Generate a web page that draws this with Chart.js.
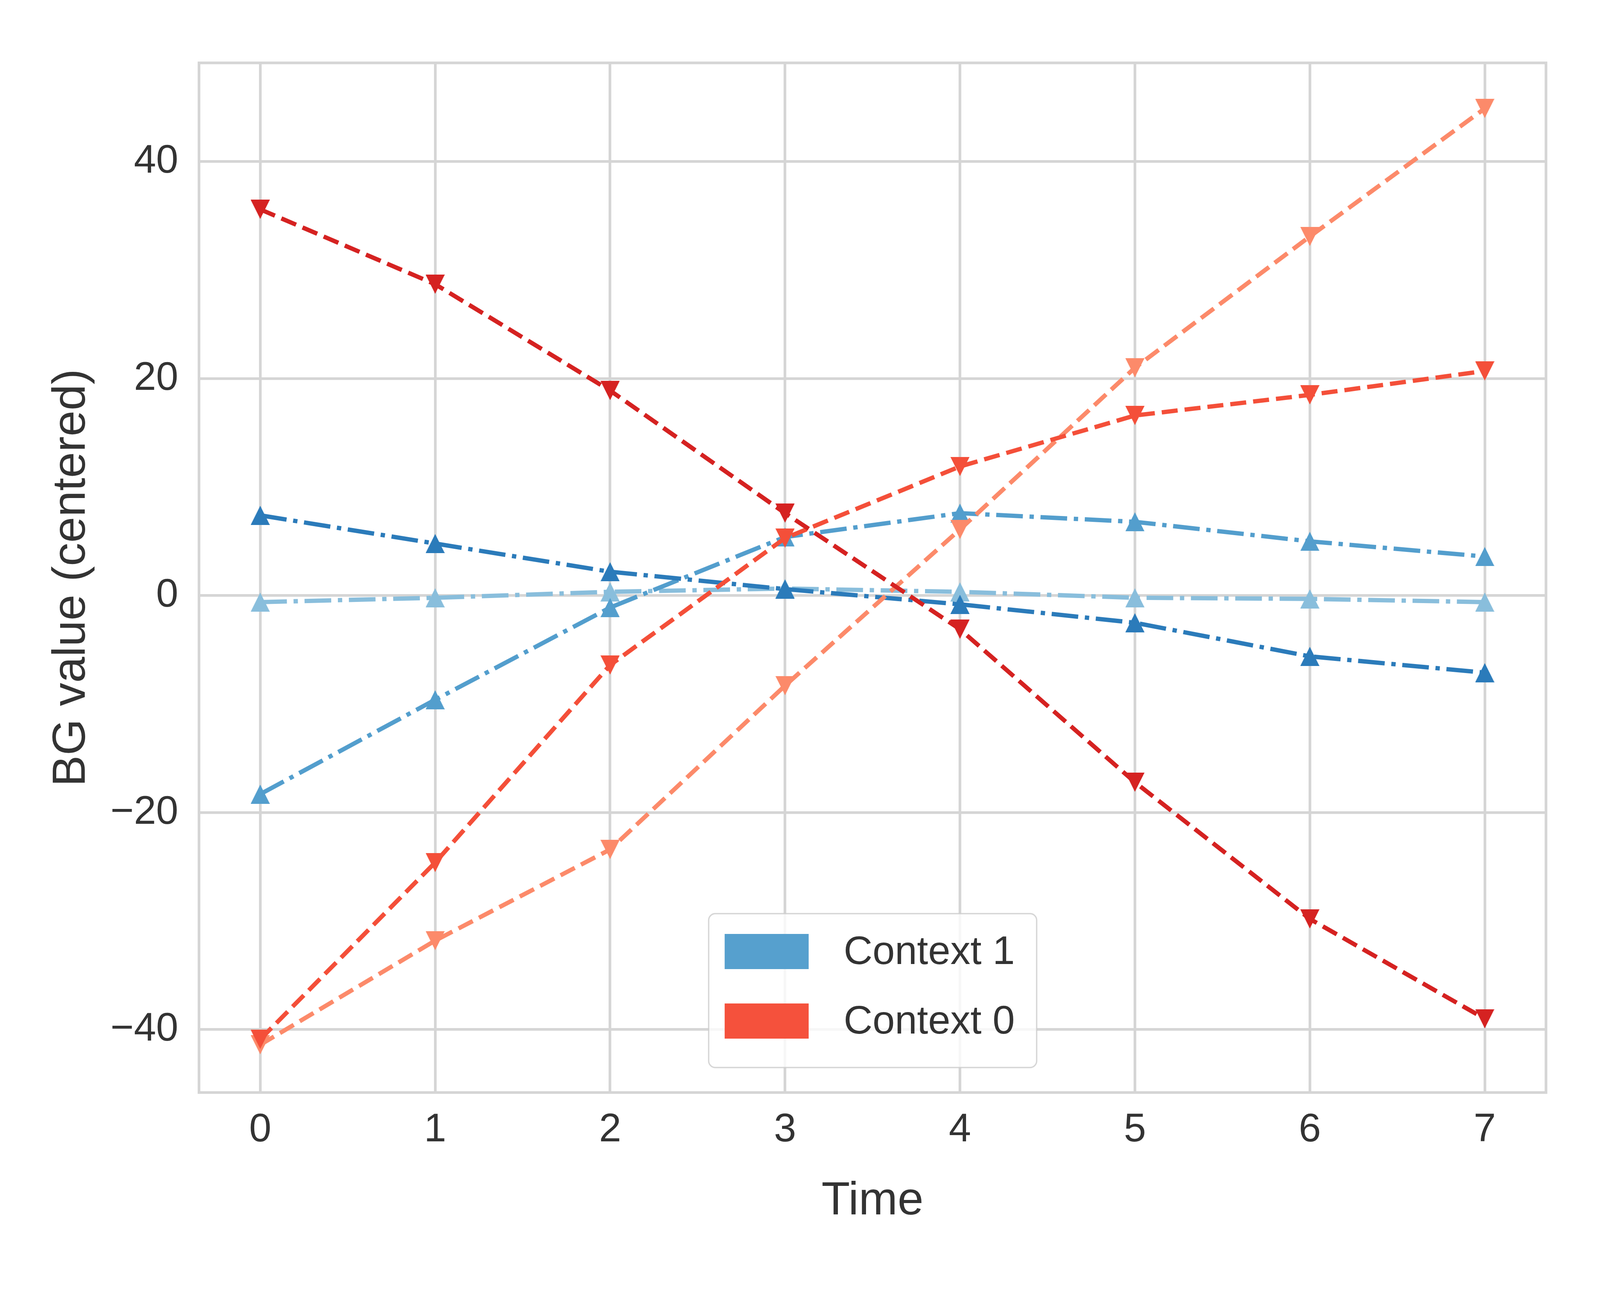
<!DOCTYPE html>
<html>
<head>
<meta charset="utf-8">
<script src="https://cdn.jsdelivr.net/npm/chart.js@4.4.1/dist/chart.umd.min.js"></script>
<style>
  html, body { margin: 0; padding: 0; background: #ffffff; overflow: hidden; }
</style>
</head>
<body>
<div id="wrap"><canvas id="bgChart"></canvas></div>
<script>
// Данные
const timeSteps = [0, 1, 2, 3, 4, 5, 6, 7];
const xTicks = [0, 1, 2, 3, 4, 5, 6, 7];
const yTicks = [-40, -20, 0, 20, 40];

// Context 1 (синие, треугольник вверх, штрих-пунктир)
const ctx1Dark = [7.4, 4.8, 2.2, 0.6, -0.8, -2.5, -5.6, -7.1];
const ctx1Mid = [-18.3, -9.6, -1.1, 5.4, 7.6, 6.8, 5.0, 3.6];
const ctx1Light = [-0.6, -0.2, 0.35, 0.65, 0.35, -0.2, -0.3, -0.6];

// Context 0 (красные, треугольник вниз, пунктир)
const ctx0Dark = [35.6, 28.7, 18.9, 7.6, -3.1, -17.2, -29.8, -39.0];
const ctx0Mid = [-40.9, -24.6, -6.4, 5.3, 11.9, 16.6, 18.5, 20.7];
const ctx0Light = [-41.4, -31.8, -23.4, -8.3, 6.1, 21.0, 33.1, 44.9];

const legendLabels = ['Context 1', 'Context 0'];
const legendColors = ['#56a0ce', '#f5513c'];

const FONT = "'Liberation Sans', Arial, sans-serif";
const TEXT = '#333333';
const GRID = '#d5d5d5';

// макет рассчитан на 4800x3300, растягиваем под реальное окно
const SX = window.innerWidth / 4800;
const SY = window.innerHeight / 3300;
const SF = Math.min(SX, SY);
const px = v => v * SX;   // горизонтальные размеры
const py = v => v * SY;   // вертикальные размеры
const pf = v => v * SF;   // шрифты, линии, маркеры
const DPR = window.devicePixelRatio || 1;

const wrap = document.getElementById('wrap');
wrap.style.width = window.innerWidth + 'px';
wrap.style.height = window.innerHeight + 'px';

// маркер как в matplotlib: треугольник шириной и высотой ms
function triangleMarker(color, up) {
    const size = pf(58);
    const n = Math.round(size * DPR * 2);
    const c = document.createElement('canvas');
    c.width = n; c.height = n;
    const g = c.getContext('2d');
    g.fillStyle = color;
    g.beginPath();
    if (up) {
        g.moveTo(n / 2, 0); g.lineTo(n, n); g.lineTo(0, n);
    } else {
        g.moveTo(0, 0); g.lineTo(n, 0); g.lineTo(n / 2, n);
    }
    g.closePath();
    g.fill();
    const img = new Image();
    img.width = size;
    img.height = size;
    return new Promise(res => {
        img.onload = () => res(img);
        img.src = c.toDataURL();
    });
}

function toPoints(values) {
    return timeSteps.map((t, i) => ({ x: t, y: values[i] }));
}

function makeSeries(label, values, color, up, marker) {
    return {
        label: label,
        data: toPoints(values),
        borderColor: color,
        backgroundColor: color,
        borderWidth: pf(13),
        borderDash: up ? [pf(80), pf(20), pf(13), pf(20)] : [pf(48), pf(21)],
        pointStyle: marker,
        pointRadius: pf(29),
        pointHoverRadius: pf(29),
        tension: 0,
        fill: false
    };
}

function fmtTick(v) {
    return v < 0 ? '\u2212' + Math.abs(v) : String(v);
}

// рамка вокруг области графика
const framePlugin = {
    id: 'frame',
    beforeDatasetsDraw(chart) {
        const { ctx, chartArea: a } = chart;
        ctx.save();
        ctx.strokeStyle = GRID;
        ctx.lineWidth = pf(8);
        ctx.strokeRect(a.left, a.top, a.right - a.left, a.bottom - a.top);
        ctx.restore();
    }
};

// легенда внутри области графика
const boxLegend = {
    id: 'boxLegend',
    afterDraw(chart) {
        const { ctx, chartArea: a } = chart;
        const x0 = a.left + px(1529), y0 = a.top + py(2178);
        const w = px(984), h = py(394), r = pf(20);
        ctx.save();
        ctx.beginPath();
        ctx.roundRect(x0, y0, w, h, r);
        ctx.fillStyle = 'rgba(255,255,255,0.8)';
        ctx.fill();
        ctx.lineWidth = pf(4);
        ctx.strokeStyle = 'rgba(204,204,204,0.8)';
        ctx.stroke();
        ctx.font = pf(120) + 'px ' + FONT;
        ctx.textBaseline = 'middle';
        legendLabels.forEach((lab, i) => {
            const cy = y0 + py(97 + i * 178);
            ctx.fillStyle = legendColors[i];
            ctx.fillRect(x0 + px(48), cy - py(45), px(252), py(90));
            ctx.fillStyle = TEXT;
            ctx.fillText(lab, x0 + px(405), cy + pf(4));
        });
        ctx.restore();
    }
};

const colors = {
    r0: '#d52221', r1: '#f44f39', r2: '#fc8a6a',
    b0: '#2b7bba', b1: '#539ecd', b2: '#89bedc'
};

Promise.all([
    triangleMarker(colors.r0, false), triangleMarker(colors.r1, false), triangleMarker(colors.r2, false),
    triangleMarker(colors.b0, true), triangleMarker(colors.b1, true), triangleMarker(colors.b2, true)
]).then(m => {
    new Chart(document.getElementById('bgChart').getContext('2d'), {
        type: 'line',
        data: {
            datasets: [
                makeSeries('Context 0 a', ctx0Dark, colors.r0, false, m[0]),
                makeSeries('Context 0 b', ctx0Mid, colors.r1, false, m[1]),
                makeSeries('Context 0 c', ctx0Light, colors.r2, false, m[2]),
                makeSeries('Context 1 a', ctx1Dark, colors.b0, true, m[3]),
                makeSeries('Context 1 b', ctx1Mid, colors.b1, true, m[4]),
                makeSeries('Context 1 c', ctx1Light, colors.b2, true, m[5])
            ]
        },
        options: {
            responsive: true,
            maintainAspectRatio: false,
            animation: false,
            layout: { padding: { top: py(161), right: px(162), left: 0, bottom: 0 } },
            plugins: { legend: { display: false }, tooltip: { enabled: false } },
            scales: {
                x: {
                    type: 'linear',
                    min: -0.35,
                    max: 7.35,
                    afterBuildTicks: s => { s.ticks = xTicks.map(v => ({ value: v })); },
                    afterFit: s => { s.height = py(503); },
                    grid: { color: GRID, lineWidth: pf(8), drawTicks: false },
                    border: { display: false },
                    ticks: {
                        autoSkip: false, maxRotation: 0, padding: py(35),
                        color: TEXT, font: { family: FONT, size: pf(120) },
                        callback: v => fmtTick(v)
                    },
                    title: {
                        display: true, text: 'Time', color: TEXT,
                        font: { family: FONT, size: pf(140) },
                        padding: { top: 0, bottom: py(152) }
                    }
                },
                y: {
                    type: 'linear',
                    min: -45.8,
                    max: 49.1,
                    afterBuildTicks: s => { s.ticks = yTicks.map(v => ({ value: v })); },
                    afterFit: s => { s.width = px(597); },
                    grid: { color: GRID, lineWidth: pf(8), drawTicks: false },
                    border: { display: false },
                    ticks: {
                        autoSkip: false, padding: px(62),
                        color: TEXT, font: { family: FONT, size: pf(120) },
                        callback: v => fmtTick(v)
                    },
                    title: {
                        display: true, text: 'BG value (centered)', color: TEXT,
                        font: { family: FONT, size: pf(140) },
                        padding: { top: px(132), bottom: 0 }
                    }
                }
            }
        },
        plugins: [framePlugin, boxLegend]
    });
});
</script>
</body>
</html>
